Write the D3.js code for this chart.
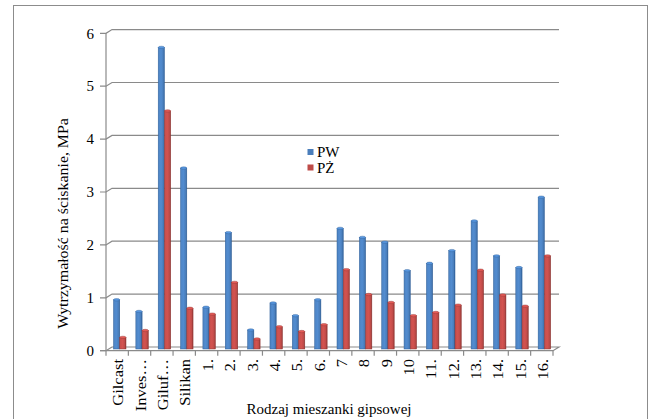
<!DOCTYPE html>
<html>
<head>
<meta charset="utf-8">
<script src="https://d3js.org/d3.v7.min.js"></script>
<style>
  body { margin: 0; background: white; }
  text { font-family: "Liberation Serif", "Times New Roman", serif; fill: #000; }
</style>
</head>
<body>
<script>

// data
var categories = ["Gilcast", "Inves…", "Giluf…", "Silikan", "1.", "2.", "3.", "4.", "5.", "6.",
                  "7", "8", "9", "10", "11.", "12.", "13.", "14.", "15.", "16."];
var seriesNames = ["PW", "PŻ"];
var pwValues = [0.93, 0.71, 5.7, 3.42, 0.79, 2.2, 0.36, 0.87, 0.63, 0.93,
                2.28, 2.11, 2.02, 1.48, 1.62, 1.86, 2.42, 1.76, 1.54, 2.87];
var pzValues = [0.22, 0.35, 4.5, 0.77, 0.66, 1.26, 0.19, 0.42, 0.33, 0.46,
                1.5, 1.03, 0.88, 0.63, 0.69, 0.83, 1.49, 1.02, 0.81, 1.76];
var yTicks = [0, 1, 2, 3, 4, 5, 6];
var colors = ["#4a7ebb", "#be4b48"];
var darkColors = ["#2f5f98", "#8f3532"];

var W = 651, H = 419;
var depth = {dx: 6, dy: 3.7};   // small 3D offset of the back wall

var svg = d3.select("body").append("svg")
    .attr("width", W)
    .attr("height", H);

// outer chart frame
svg.append("rect")
    .attr("x", 13.5).attr("y", 5.5)
    .attr("width", 634).attr("height", 430)
    .attr("fill", "none")
    .attr("stroke", "#8c8c8c")
    .attr("stroke-width", 1);

// front plane scales
var yFront = d3.scaleLinear().domain([0, 6]).range([350.7, 33.3]);
var xFront = d3.scaleBand().domain(categories).range([106, 553]);
// back wall & bar plane
var yBack = function(v) { return yFront(v) - depth.dy; };
var yMid = d3.scaleLinear().domain([0, 6]).range([349, 31.5]);
var xMid = d3.scaleBand().domain(categories).range([109, 556]);
var xSub = d3.scaleBand().domain(seriesNames).range([4.5, 17]);

var grid = svg.append("g").attr("stroke", "#8a8a8a").attr("stroke-width", 1.2).attr("fill", "none");

yTicks.forEach(function(v) {
  var yf = yFront(v), yb = yBack(v);
  // tick + slant + back wall line
  grid.append("path")
      .attr("d", "M100," + yf + "L106," + yf + "L" + (106 + depth.dx) + "," + yb +
                 (v > 0 ? "L" + (553 + depth.dx) + "," + yb : ""));
});

// y axis line
grid.append("line")
    .attr("x1", 106).attr("x2", 106)
    .attr("y1", yFront(6)).attr("y2", yFront(0));

// floor
grid.append("path")
    .attr("d", "M100," + yFront(0) + "L553," + yFront(0) + "L" + (553 + depth.dx) + "," + yBack(0) +
               "L" + (106 + depth.dx) + "," + yBack(0));

// x ticks at category boundaries
categories.concat([null]).forEach(function(c, i) {
  var x = 106 + i * xFront.step();
  grid.append("line")
      .attr("x1", x).attr("x2", x)
      .attr("y1", yFront(0)).attr("y2", yFront(0) + 5);
});

// y tick labels
svg.append("g").selectAll("text")
    .data(yTicks)
    .enter().append("text")
    .attr("x", 94)
    .attr("y", function(d) { return yFront(d); })
    .attr("dy", "0.35em")
    .attr("text-anchor", "end")
    .style("font-size", "15px")
    .text(function(d) { return d; });

// gradients for column shading
var defs = svg.append("defs");
colors.forEach(function(c, i) {
  var g = defs.append("linearGradient")
      .attr("id", "grad" + i)
      .attr("x1", "0").attr("x2", "1").attr("y1", "0").attr("y2", "0");
  g.append("stop").attr("offset", "0%").attr("stop-color", d3.color(c).brighter(0.1));
  g.append("stop").attr("offset", "45%").attr("stop-color", d3.color(c).brighter(0.3));
  g.append("stop").attr("offset", "80%").attr("stop-color", c);
  g.append("stop").attr("offset", "100%").attr("stop-color", darkColors[i]);
});

var rows = categories.map(function(c, i) {
  return {cat: c, vals: [pwValues[i], pzValues[i]]};
});

var bw = xSub.bandwidth();
var groups = svg.append("g").selectAll("g")
    .data(rows)
    .enter().append("g")
    .attr("transform", function(d) { return "translate(" + xMid(d.cat) + ",0)"; });

groups.selectAll("rect.bar")
    .data(function(d) { return d.vals.map(function(v, j) { return {v: v, s: j}; }); })
    .enter().append("rect")
    .attr("class", "bar")
    .attr("x", function(d) { return xSub(seriesNames[d.s]); })
    .attr("width", bw)
    .attr("y", function(d) { return yMid(d.v); })
    .attr("height", function(d) { return yMid(0) - yMid(d.v); })
    .attr("fill", function(d) { return "url(#grad" + d.s + ")"; })
    .attr("stroke", function(d) { return darkColors[d.s]; })
    .attr("stroke-width", 0.5);

// top caps of the columns
groups.selectAll("ellipse")
    .data(function(d) { return d.vals.map(function(v, j) { return {v: v, s: j}; }); })
    .enter().append("ellipse")
    .attr("cx", function(d) { return xSub(seriesNames[d.s]) + bw / 2; })
    .attr("cy", function(d) { return yMid(d.v); })
    .attr("rx", bw / 2)
    .attr("ry", 1.2)
    .attr("fill", function(d) { return d3.color(colors[d.s]).brighter(0.5); })
    .attr("stroke", function(d) { return darkColors[d.s]; })
    .attr("stroke-width", 0.4);

// x category labels, rotated (picture is a bit stretched vertically)
svg.append("g").selectAll("text")
    .data(categories)
    .enter().append("text")
    .attr("transform", function(d) {
      return "translate(" + (xFront(d) + xFront.bandwidth() / 2 + 1) + ",359) rotate(-90) scale(1.1,1)";
    })
    .attr("dy", "0.35em")
    .attr("text-anchor", "end")
    .style("font-size", "15px")
    .text(function(d) { return d; });

// axis titles
svg.append("text")
    .attr("x", 329).attr("y", 414)
    .attr("text-anchor", "middle")
    .style("font-size", "15px")
    .text("Rodzaj mieszanki gipsowej");

svg.append("text")
    .attr("transform", "translate(63,223.5) rotate(-90) scale(1.06,1)")
    .attr("dy", "0.35em")
    .attr("text-anchor", "middle")
    .style("font-size", "15px")
    .text("Wytrzymałość na ściskanie, MPa");

// legend
var legend = svg.append("g").selectAll("g")
    .data(seriesNames)
    .enter().append("g")
    .attr("transform", function(d, i) { return "translate(307.5," + (149 + i * 15.5) + ")"; });

legend.append("rect")
    .attr("width", 6).attr("height", 6)
    .attr("fill", function(d, i) { return colors[i]; });

legend.append("text")
    .attr("x", 9.5).attr("y", 3)
    .attr("dy", "0.35em")
    .style("font-size", "15px")
    .text(function(d) { return d; });

</script>
</body>
</html>
